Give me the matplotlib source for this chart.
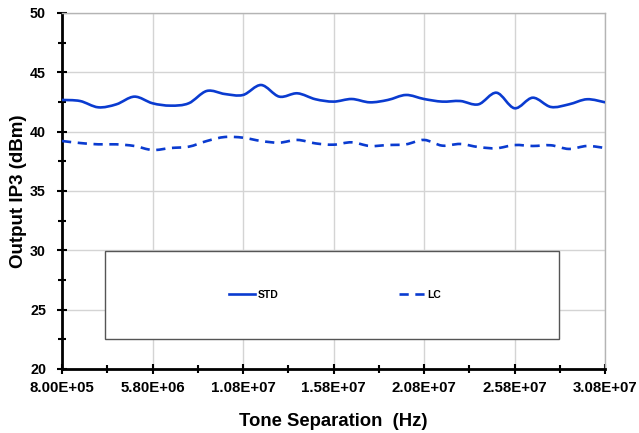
import numpy as np
import matplotlib
matplotlib.use("Agg")
import matplotlib.pyplot as plt
from matplotlib.path import Path
from matplotlib.patches import PathPatch, Rectangle
from matplotlib.lines import Line2D
from matplotlib.ticker import MultipleLocator, FuncFormatter

plt.rcParams["font.family"] = ["Liberation Sans", "DejaVu Sans"]

# tone separation (Hz), one point per 1 MHz step
freq_hz = [8.0e5 + 1.0e6 * k for k in range(31)]
std_dbm = [42.67, 42.58, 42.05, 42.30, 42.95, 42.39, 42.19, 42.39, 43.43, 43.17,
           43.09, 43.93, 42.95, 43.23, 42.73, 42.53, 42.75, 42.47, 42.67, 43.09,
           42.75, 42.53, 42.58, 42.30, 43.28, 41.97, 42.86, 42.08, 42.30, 42.73,
           42.47]
lc_dbm = [39.21, 39.04, 38.93, 38.93, 38.79, 38.45, 38.62, 38.73, 39.21, 39.55,
          39.49, 39.21, 39.07, 39.30, 39.01, 38.90, 39.10, 38.79, 38.87, 38.93,
          39.30, 38.82, 38.96, 38.70, 38.60, 38.87, 38.79, 38.85, 38.54, 38.79,
          38.62]

BLUE = "#0a3bd0"


def smooth_path(x, y):
    # Excel-like smoothed line: cubic bezier segments through each point
    p = np.column_stack([x, y]).astype(float)
    n = len(p)
    verts = [p[0]]
    codes = [Path.MOVETO]
    for i in range(n - 1):
        p0 = p[i - 1] if i > 0 else p[i]
        p3 = p[i + 2] if i + 2 < n else p[i + 1]
        c1 = p[i] + (p[i + 1] - p0) / 6.0
        c2 = p[i + 1] - (p3 - p[i]) / 6.0
        verts += [c1, c2, p[i + 1]]
        codes += [Path.CURVE4] * 3
    return Path(verts, codes)


fig = plt.figure(figsize=(6.39, 4.33), dpi=100)
ax = fig.add_axes([0.097, 0.148, 0.850, 0.822])

ax.add_patch(PathPatch(smooth_path(freq_hz, std_dbm), fill=False, edgecolor=BLUE,
                       lw=1.9, zorder=3))
ax.add_patch(PathPatch(smooth_path(freq_hz, lc_dbm), fill=False, edgecolor=BLUE,
                       lw=1.9, linestyle=(0, (3.5, 2.5)), zorder=3))

ax.set_xlim(8.0e5, 3.08e7)
ax.set_ylim(20, 50)

ax.xaxis.set_major_locator(MultipleLocator(5.0e6, offset=8.0e5))
ax.xaxis.set_minor_locator(MultipleLocator(2.5e6, offset=8.0e5))
ax.xaxis.set_major_formatter(FuncFormatter(lambda v, pos: "{:.2E}".format(v)))
ax.yaxis.set_major_locator(MultipleLocator(5))
ax.yaxis.set_minor_locator(MultipleLocator(2.5))

ax.grid(True, which="major", color="#d4d4d4", lw=1.0, zorder=0)
ax.set_axisbelow(True)

for side in ("left", "bottom"):
    ax.spines[side].set_color("black")
    ax.spines[side].set_linewidth(2.0)
for side in ("top", "right"):
    ax.spines[side].set_color("#b4b4b4")
    ax.spines[side].set_linewidth(1.0)

ax.tick_params(which="both", direction="inout", color="black", width=1.5)
ax.tick_params(which="major", length=7)
ax.tick_params(which="minor", length=6)
ax.tick_params(axis="x", which="major", labelsize=10.8, pad=5)
ax.tick_params(axis="y", which="major", labelsize=10.3, pad=8)
for lbl in ax.get_xticklabels() + ax.get_yticklabels():
    lbl.set_fontweight("bold")

ax.set_xlabel("Tone Separation  (Hz)", fontsize=13.3, fontweight="bold", labelpad=13)
ax.set_ylabel("Output IP3 (dBm)", fontsize=13.5, fontweight="bold", labelpad=2.5)

# legend box
ax.add_patch(Rectangle((0.079, 0.084), 0.836, 0.247, transform=ax.transAxes,
                       facecolor="white", edgecolor="#555555", lw=1.0, zorder=4))
handles = [Line2D([], [], color=BLUE, lw=1.9),
           Line2D([], [], color=BLUE, lw=1.9, linestyle=(0, (3.5, 2.5)))]
leg = ax.legend(handles, ["STD", "LC"], loc="center", bbox_to_anchor=(0.503, 0.208),
                ncol=2, frameon=False, fontsize=7.5, handlelength=2.5,
                handletextpad=0.3, columnspacing=11.5)
for t in leg.get_texts():
    t.set_fontweight("bold")
leg.set_zorder(5)

fig.savefig("out.png", dpi=100)
